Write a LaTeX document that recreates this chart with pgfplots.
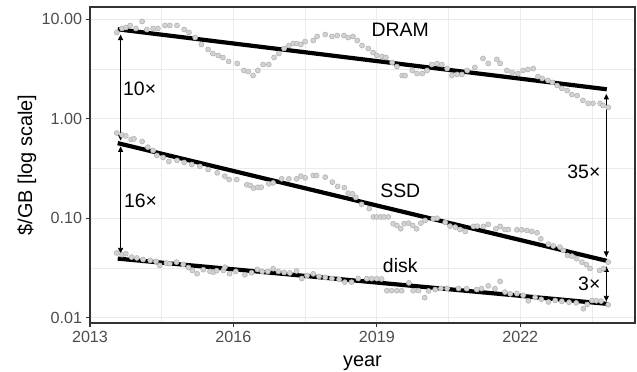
\documentclass[border=0pt]{standalone}
\usepackage{pgfplots}
\pgfplotsset{compat=1.18}
\usepackage{fontspec}
\setmainfont{Liberation Sans}
\usetikzlibrary{arrows.meta}
\definecolor{gridc}{HTML}{EBEBEB}
\definecolor{tickc}{HTML}{4D4D4D}
\definecolor{framec}{HTML}{333333}
\definecolor{ptfill}{HTML}{D2D2D2}
\definecolor{ptdraw}{HTML}{B4B4B4}

\pgfplotstableread{
year value
2013.56 7.37
2013.67 8.09
2013.75 8.27
2013.84 8.67
2013.96 8.09
2014.09 9.50
2014.19 7.89
2014.32 8.09
2014.42 8.09
2014.57 8.67
2014.67 8.67
2014.82 8.67
2014.97 7.89
2015.07 7.37
2015.20 6.56
2015.33 5.58
2015.47 4.97
2015.57 4.53
2015.68 4.33
2015.78 4.13
2015.90 3.77
2016.08 3.60
2016.22 3.06
2016.31 2.99
2016.41 2.72
2016.51 3.06
2016.62 3.51
2016.74 3.51
2016.85 4.13
2016.95 4.53
2017.06 5.09
2017.16 5.45
2017.25 5.71
2017.33 5.71
2017.41 5.58
2017.50 5.98
2017.67 6.12
2017.75 6.72
2017.92 7.03
2018.06 6.72
2018.17 6.87
2018.31 6.87
2018.40 6.56
2018.50 6.72
2018.59 6.12
2018.69 5.45
2018.82 5.09
2018.92 4.64
2019.00 4.33
2019.11 4.23
2019.19 4.13
2019.32 3.68
2019.42 3.35
2019.53 2.72
2019.59 2.72
2019.74 3.06
2019.84 2.85
2019.95 2.85
2020.05 3.06
2020.15 3.51
2020.26 3.60
2020.36 3.51
2020.47 3.20
2020.57 2.72
2020.68 2.79
2020.78 2.79
2020.89 3.06
2021.05 3.28
2021.22 4.04
2021.33 3.60
2021.51 3.95
2021.58 3.60
2021.72 3.06
2021.83 2.92
2021.95 2.85
2022.06 3.06
2022.16 3.13
2022.27 3.20
2022.37 2.66
2022.46 2.54
2022.58 2.43
2022.67 2.32
2022.77 2.16
2022.87 2.02
2022.98 1.92
2023.08 1.75
2023.19 1.71
2023.31 1.53
2023.42 1.43
2023.52 1.43
2023.67 1.43
2023.73 1.36
2023.84 1.30
}\dram

\pgfplotstableread{
year value
2013.56 0.720
2013.67 0.688
2013.75 0.672
2013.86 0.619
2013.92 0.629
2014.09 0.591
2014.21 0.519
2014.32 0.480
2014.40 0.428
2014.53 0.408
2014.65 0.372
2014.82 0.381
2014.97 0.364
2015.13 0.347
2015.30 0.332
2015.47 0.309
2015.66 0.286
2015.82 0.265
2015.91 0.245
2016.07 0.245
2016.28 0.217
2016.35 0.214
2016.42 0.201
2016.51 0.205
2016.58 0.205
2016.74 0.222
2016.83 0.227
2017.01 0.249
2017.16 0.249
2017.32 0.249
2017.41 0.265
2017.50 0.255
2017.67 0.269
2017.74 0.269
2017.92 0.259
2018.07 0.231
2018.18 0.209
2018.32 0.203
2018.40 0.179
2018.49 0.176
2018.56 0.162
2018.68 0.138
2018.84 0.125
2018.93 0.103
2019.00 0.103
2019.08 0.103
2019.15 0.103
2019.24 0.103
2019.34 0.0881
2019.42 0.0847
2019.50 0.0784
2019.57 0.0881
2019.66 0.0893
2019.75 0.0847
2019.83 0.0784
2019.92 0.0893
2020.01 0.0951
2020.18 0.0989
2020.26 0.100
2020.43 0.0908
2020.53 0.0833
2020.64 0.0814
2020.74 0.0771
2020.85 0.0737
2021.02 0.0828
2021.10 0.0833
2021.23 0.0828
2021.33 0.0867
2021.49 0.0784
2021.58 0.0828
2021.68 0.0771
2021.75 0.0771
2021.93 0.0766
2022.03 0.0766
2022.14 0.0754
2022.24 0.0737
2022.35 0.0715
2022.43 0.0622
2022.59 0.0549
2022.69 0.0527
2022.83 0.0513
2022.90 0.0475
2022.99 0.0423
2023.08 0.0416
2023.18 0.0392
2023.29 0.0362
2023.38 0.0343
2023.46 0.0313
2023.66 0.0299
2023.74 0.0311
2023.84 0.0362
}\ssd

\pgfplotstableread{
year value
2013.56 0.0448
2013.67 0.0430
2013.75 0.0440
2013.87 0.0407
2013.98 0.0399
2014.11 0.0385
2014.26 0.0377
2014.38 0.0368
2014.46 0.0336
2014.60 0.0354
2014.67 0.0349
2014.81 0.0362
2014.95 0.0343
2015.06 0.0320
2015.14 0.0299
2015.24 0.0277
2015.37 0.0304
2015.51 0.0292
2015.58 0.0287
2015.65 0.0297
2015.79 0.0299
2015.82 0.0322
2015.92 0.0277
2016.05 0.0292
2016.24 0.0270
2016.38 0.0283
2016.50 0.0306
2016.60 0.0292
2016.72 0.0292
2016.83 0.0311
2016.94 0.0292
2017.06 0.0285
2017.18 0.0282
2017.32 0.0295
2017.43 0.0248
2017.54 0.0266
2017.67 0.0276
2017.79 0.0260
2017.92 0.0254
2018.06 0.0248
2018.21 0.0243
2018.33 0.0228
2018.47 0.0228
2018.61 0.0248
2018.79 0.0247
2018.89 0.0247
2019.00 0.0247
2019.10 0.0245
2019.21 0.0187
2019.31 0.0187
2019.42 0.0187
2019.52 0.0187
2019.67 0.0224
2019.76 0.0187
2019.87 0.0187
2020.00 0.0159
2020.08 0.0186
2020.22 0.0192
2020.34 0.0197
2020.47 0.0197
2020.71 0.0197
2020.88 0.0196
2021.09 0.0192
2021.19 0.0196
2021.33 0.0209
2021.47 0.0196
2021.58 0.0232
2021.68 0.0181
2021.79 0.0174
2021.93 0.0175
2022.06 0.0168
2022.17 0.0148
2022.31 0.0160
2022.44 0.0153
2022.59 0.0144
2022.73 0.0149
2022.87 0.0146
2023.02 0.0143
2023.17 0.0141
2023.32 0.0123
2023.40 0.0136
2023.50 0.0149
2023.59 0.0148
2023.69 0.0147
2023.84 0.0135
}\disk

\begin{document}
\begin{tikzpicture}
\useasboundingbox (0,0) rectangle (637bp,372bp);
\begin{axis}[
  at={(90bp,49bp)}, anchor=south west,
  width=545bp, height=316bp, scale only axis,
  xmin=2013, xmax=2024.40,
  ymode=log, ymin=0.00885, ymax=13.3,
  axis line style={framec, line width=1.1bp},
  xtick={2013,2016,2019,2022}, xticklabels={2013,2016,2019,2022},
  ytick={0.01,0.1,1,10}, yticklabels={0.01,0.10,1.00,10.00},
  minor xtick={2014.5,2017.5,2020.5,2023.5},
  minor ytick={0.0316228,0.316228,3.16228},
  tick align=outside, tick pos=left,
  major tick length=4.5bp, minor tick length=0pt,
  tick style={framec, line width=1.1bp},
  grid=both,
  major grid style={gridc, line width=1.1bp},
  minor grid style={gridc, line width=0.55bp},
  ticklabel style={font=\fontsize{16.2}{18}\selectfont, text=tickc},
]
\addplot[only marks, mark=*, mark size=2.5bp, mark options={fill=ptfill, draw=ptdraw, line width=0.6bp}] table[x=year, y=value] {\dram};
\addplot[only marks, mark=*, mark size=2.5bp, mark options={fill=ptfill, draw=ptdraw, line width=0.6bp}] table[x=year, y=value] {\ssd};
\addplot[only marks, mark=*, mark size=2.5bp, mark options={fill=ptfill, draw=ptdraw, line width=0.6bp}] table[x=year, y=value] {\disk};

\addplot[black, line width=4.2bp] coordinates {(2013.58,7.94) (2023.81,1.98)};
\addplot[black, line width=4.2bp] coordinates {(2013.58,0.569) (2023.81,0.0373)};
\addplot[black, line width=4.2bp] coordinates {(2013.58,0.0393) (2023.81,0.0138)};

\addplot[black, line width=0.8bp, {Triangle[length=5.5bp,width=5bp]}-{Triangle[length=5.5bp,width=5bp]}] coordinates {(2013.64,7.03) (2013.64,0.605)};
\addplot[black, line width=0.8bp, {Triangle[length=5.5bp,width=5bp]}-{Triangle[length=5.5bp,width=5bp]}] coordinates {(2013.64,0.527) (2013.64,0.0443)};
\addplot[black, line width=0.8bp, {Triangle[length=5.5bp,width=5bp]}-{Triangle[length=5.5bp,width=5bp]}] coordinates {(2023.80,1.78) (2023.80,0.0408)};
\addplot[black, line width=0.8bp, {Triangle[length=5.5bp,width=5bp]}-{Triangle[length=5.5bp,width=5bp]}] coordinates {(2023.80,0.0329) (2023.80,0.0146)};

\node[anchor=base west, inner sep=0pt, font=\fontsize{19.5}{22}\selectfont] at (axis cs:2013.69,1.715) {10×};
\node[anchor=base west, inner sep=0pt, font=\fontsize{19.5}{22}\selectfont] at (axis cs:2013.71,0.129) {16×};
\node[anchor=base east, inner sep=0pt, font=\fontsize{19.5}{22}\selectfont] at (axis cs:2023.68,0.249) {35×};
\node[anchor=base east, inner sep=0pt, font=\fontsize{19.5}{22}\selectfont] at (axis cs:2023.68,0.0188) {3×};
\node[anchor=base, inner sep=0pt, font=\fontsize{19.5}{22}\selectfont] at (axis cs:2019.49,6.72) {DRAM};
\node[anchor=base, inner sep=0pt, font=\fontsize{19.5}{22}\selectfont] at (axis cs:2019.49,0.163) {SSD};
\node[anchor=base, inner sep=0pt, font=\fontsize{19.5}{22}\selectfont] at (axis cs:2019.49,0.0287) {disk};
\end{axis}
\node[anchor=base, inner sep=0pt, font=\fontsize{20}{22}\selectfont] at (362.5bp,5.5bp) {year};
\node[rotate=90, anchor=base, inner sep=0pt, font=\fontsize{20}{22}\selectfont] at (32bp,207bp) {\$/GB [log scale]};
\end{tikzpicture}
\end{document}
